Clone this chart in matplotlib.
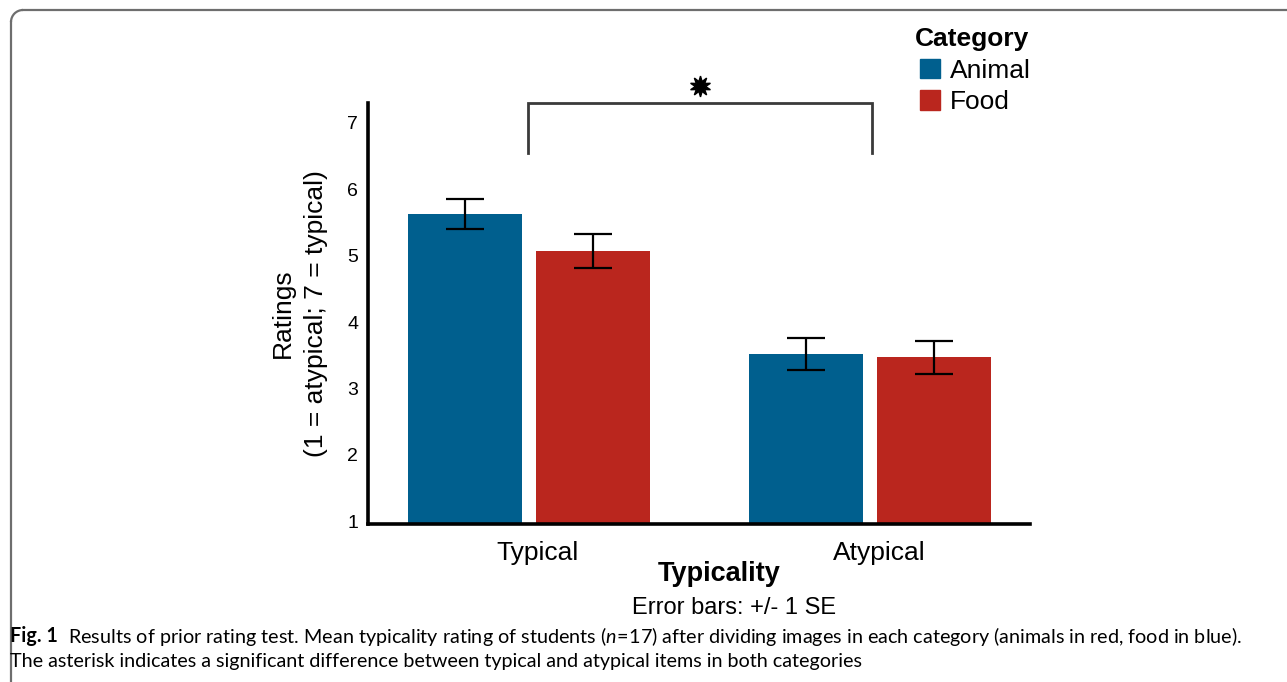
import numpy as np
import matplotlib.pyplot as plt
from matplotlib.lines import Line2D
from matplotlib.patches import Arc, Patch
from matplotlib.transforms import IdentityTransform, ScaledTranslation

plt.rcParams['font.family'] = ['Liberation Sans', 'DejaVu Sans']
plt.rcParams['mathtext.fontset'] = 'custom'
plt.rcParams['mathtext.rm'] = 'Lato'
plt.rcParams['mathtext.it'] = 'Lato:italic'

groups = ['Typical', 'Atypical']
categories = ['Animal', 'Food']
means = {'Animal': [5.63, 3.52], 'Food': [5.07, 3.47]}
errors = {'Animal': [0.22, 0.24], 'Food': [0.26, 0.25]}
colors = {'Animal': '#005F8E', 'Food': '#BA261E'}

W, H = 1287, 682
fig = plt.figure(figsize=(W / 100, H / 100), dpi=100)
ax = fig.add_axes([368 / W, 1 - 524 / H, (1030 - 368) / W, (524 - 103) / H])

x = np.arange(len(groups))
width = 0.334
offsets = [-0.1877, 0.1877]
for cat, off in zip(categories, offsets):
    ax.bar(x + off, means[cat], width, color=colors[cat], label=cat)
    ax.errorbar(x + off, means[cat], yerr=errors[cat], fmt='none',
                ecolor='black', elinewidth=1.6, capsize=14, capthick=1.6)

ax.set_xlim(-0.472, 1.469)
ax.set_ylim(0.96, 7.3)
ax.set_yticks(range(1, 8))
ax.set_xticks(x)
ax.set_xticklabels(groups, fontsize=19)
ax.tick_params(axis='y', length=0, labelsize=14, pad=7)
ax.tick_params(axis='x', length=0, pad=12)
shift = ScaledTranslation(9 / 100, 0, fig.dpi_scale_trans)
for lab in ax.get_xticklabels():
    lab.set_transform(lab.get_transform() + shift)
for side in ['top', 'right']:
    ax.spines[side].set_visible(False)
for side in ['left', 'bottom']:
    ax.spines[side].set_linewidth(2.6)

ax.set_ylabel('Ratings\n(1 = atypical; 7 = typical)', fontsize=19,
              labelpad=14, linespacing=1.45)

# significance bracket between typical and atypical
ax.plot([-0.003, -0.003, 1.006, 1.006], [6.55, 7.3, 7.3, 6.55],
        color='#3a3a3a', lw=2, clip_on=False, solid_joinstyle='miter')
ax.plot([0.501], [7.55], marker=(10, 1, 0), markersize=15, color='black',
        clip_on=False)

fig.text(719 / W, 1 - 574 / H, 'Typicality', fontsize=19.5, fontweight='bold',
         ha='center', va='center')
fig.text(734 / W, 1 - 608 / H, 'Error bars: +/- 1 SE', fontsize=17,
         ha='center', va='center')

handles = [Patch(color=colors[c]) for c in categories]
leg = fig.legend(handles, categories, loc='upper left',
                 bbox_to_anchor=(896 / W, 1 - 9 / H), frameon=False,
                 fontsize=19, title='Category',
                 title_fontproperties={'weight': 'bold', 'size': 19},
                 handlelength=0.75, handleheight=0.75, handletextpad=0.45,
                 labelspacing=0.28, borderpad=0.2, alignment='left')
for h in leg.legend_handles:
    h.set_x(h.get_x() + 4)
for t in leg.get_texts():
    t.set_x(t.get_position()[0] + 4)

# caption: bold figure number followed by the regular text
cap = fig.text(10 / W, 1 - 636 / H, 'Fig. 1', family='Lato', fontweight='bold',
               fontsize=14.2, va='center', ha='left')
ax.annotate('  Results of prior rating test. Mean typicality rating of students '
            '($n\\!=\\!17$) after dividing images in each category (animals in red, '
            'food in blue).', xy=(1, 0.5), xycoords=cap, va='center', ha='left',
            family='Lato', fontsize=14.2, annotation_clip=False)
fig.text(10 / W, 1 - 661 / H, 'The asterisk indicates a significant difference '
         'between typical and atypical items in both categories',
         family='Lato', fontsize=14.2, va='center', ha='left')

# rounded panel frame
tr = IdentityTransform()
fig.add_artist(Line2D([23, W + 5], [H - 10, H - 10], color='#6e6e6e', lw=1.6,
                      transform=tr))
fig.add_artist(Line2D([11, 11], [H - 22, -5], color='#6e6e6e', lw=1.6,
                      transform=tr))
fig.add_artist(Arc((23, H - 22), 24, 24, theta1=90, theta2=180,
                   color='#6e6e6e', lw=1.6, transform=tr))

fig.savefig('out.png', dpi=100)
